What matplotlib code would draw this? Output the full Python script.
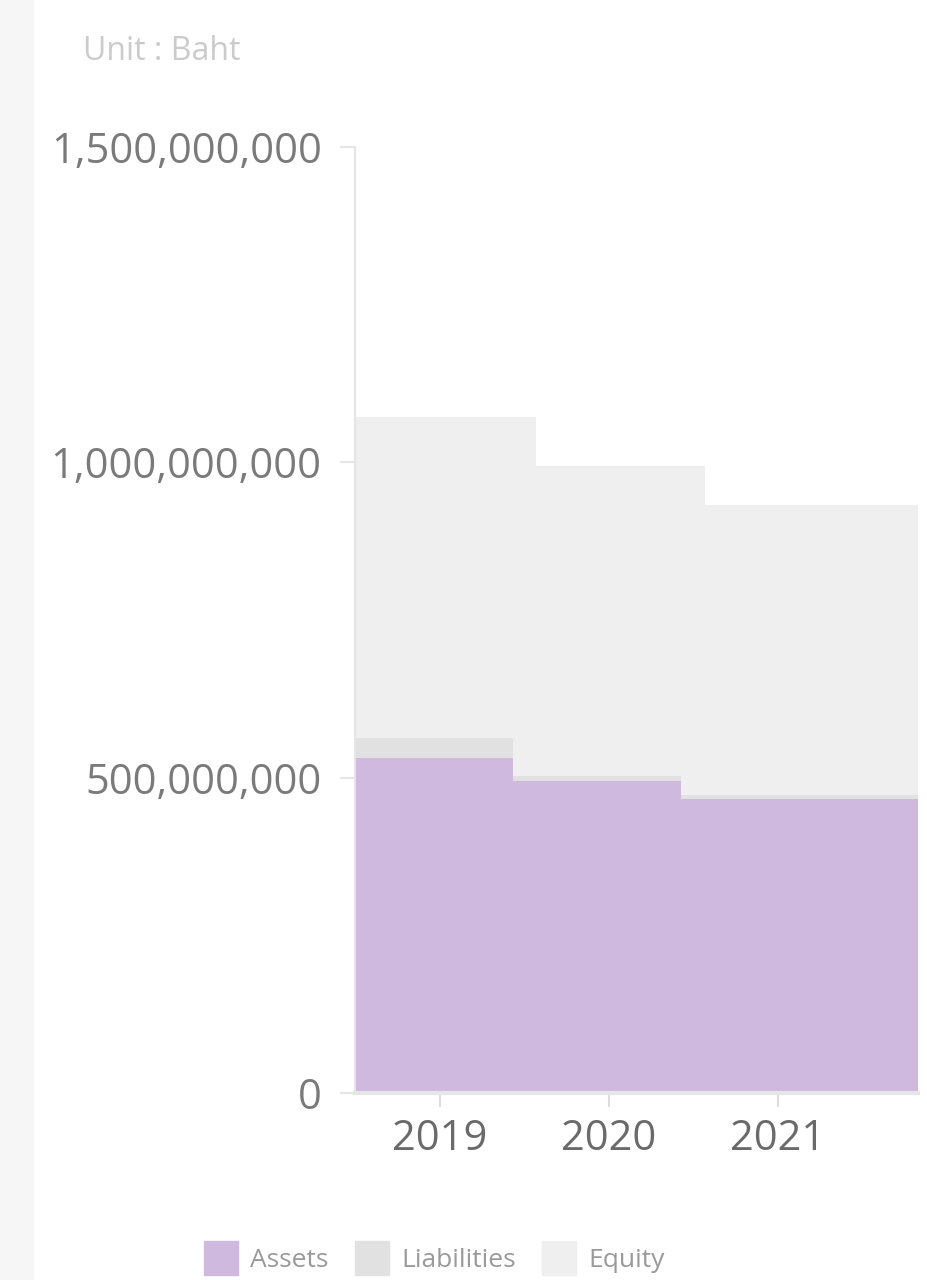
import matplotlib
matplotlib.use("Agg")
import matplotlib.pyplot as plt
from matplotlib.patches import Patch, Rectangle
from matplotlib.ticker import FuncFormatter

# Values (Baht)
years = ["2019", "2020", "2021"]
assets = [531e6, 494e6, 466e6]
liabilities = [32e6, 9e6, 6e6]
equity = [1072e6, 994e6, 932e6]
y_ticks = [0, 500e6, 1000e6, 1500e6]

plt.rcParams["font.family"] = ["Open Sans", "DejaVu Sans"]

C_ASSETS = "#d0b9df"
C_LIAB = "#e1e1e1"
C_EQUITY = "#efefef"

fig = plt.figure(figsize=(9.28, 12.8), dpi=100)
fig.patches.append(Rectangle((0, 0), 33 / 928, 1, transform=fig.transFigure,
                             color="#f6f6f6", zorder=0))
ax = fig.add_axes([0.3825, 0.1461, 0.6067, 0.7391])

pos = list(range(len(years)))
x_min, x_max = -0.503, 2.83
shift = 0.07

# Step edges between categories, left group (assets) shifted left, equity shifted right
left_edges = [x_min] + [p + 0.5 - shift for p in pos[:-1]] + [x_max]
right_edges = [x_min] + [p + 0.5 + shift for p in pos[:-1]] + [x_max]

ax.stairs(equity, right_edges, fill=True, color=C_EQUITY, baseline=0, zorder=1)
tops = [a + l for a, l in zip(assets, liabilities)]
ax.stairs(tops, left_edges, fill=True, color=C_LIAB, baseline=0, zorder=2)
ax.stairs(assets, left_edges, fill=True, color=C_ASSETS, baseline=0, zorder=3)

ax.set_xlim(x_min, x_max)
ax.set_ylim(0, 1.5e9)
ax.set_xticks(pos)
ax.set_xticklabels(years)
ax.set_yticks(y_ticks)
ax.yaxis.set_major_formatter(FuncFormatter(lambda v, _: f"{v:,.0f}"))

for side in ["top", "right"]:
    ax.spines[side].set_visible(False)
ax.spines["left"].set_color("#e6e6e6")
ax.spines["bottom"].set_color("#e6e6e6")
ax.spines["left"].set_linewidth(1.5)
ax.spines["bottom"].set_linewidth(3)
ax.spines["left"].set_zorder(5)
ax.spines["bottom"].set_zorder(5)

ax.tick_params(axis="y", length=11, width=1.5, color="#e6e6e6", pad=13,
               labelsize=30, labelcolor="#7a7a7a")
ax.tick_params(axis="x", length=10, width=1.5, color="#dddddd", pad=8,
               labelsize=30, labelcolor="#6a6a6a")

fig.text(83 / 928, 1 - 52 / 1280, "Unit : Baht", fontsize=23, color="#cbcbcb",
         ha="left", va="center")

handles = [Patch(color=C_ASSETS, label="Assets"),
           Patch(color=C_LIAB, label="Liabilities"),
           Patch(color=C_EQUITY, label="Equity")]
fig.legend(handles=handles, loc="center", bbox_to_anchor=(0.468, 0.017), ncol=3,
           frameon=False, fontsize=19, labelcolor="#9a9a9a", handlelength=1.3,
           handleheight=1.6, handletextpad=0.45, columnspacing=1.0)

fig.savefig("out.png", dpi=100)
